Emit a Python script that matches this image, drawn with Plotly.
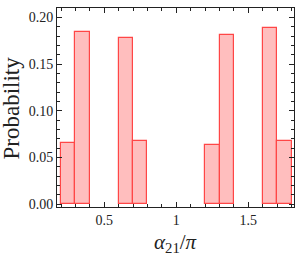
import plotly.graph_objects as go

bin_left = [0.2, 0.3, 0.6, 0.7, 1.2, 1.3, 1.6, 1.7]
bin_width = 0.1
probability = [0.065, 0.184, 0.178, 0.068, 0.063, 0.181, 0.189, 0.068]

x_ticks = [0.5, 1.0, 1.5]
x_tick_labels = ["0.5", "1", "1.5"]
y_ticks = [0.0, 0.05, 0.10, 0.15, 0.20]
y_tick_labels = ["0.00", "0.05", "0.10", "0.15", "0.20"]

centers = [b + bin_width / 2 for b in bin_left]

fig = go.Figure()
fig.add_trace(go.Bar(
    x=centers, y=probability, width=[bin_width] * len(centers),
    marker=dict(color="rgba(255,190,190,1)", line=dict(color="rgb(255,70,70)", width=1.2)),
    showlegend=False, hoverinfo="skip",
))

font = "Liberation Serif"
axis_common = dict(
    showline=True, linecolor="#222", linewidth=1, mirror="ticks",
    ticks="inside", ticklen=5, tickcolor="#222", tickwidth=1,
    showgrid=False, zeroline=False, automargin=False,
    tickfont=dict(family=font, size=14, color="#222"),
)
fig.update_layout(
    width=299, height=257,
    margin=dict(l=57, r=5, t=8, b=50),
    paper_bgcolor="white", plot_bgcolor="white",
    bargap=0,
    font=dict(family=font),
    xaxis=dict(range=[0.172, 1.817], tickvals=x_ticks, ticktext=x_tick_labels,
               minor=dict(dtick=0.1, tick0=0, ticks="inside", ticklen=3, tickcolor="#222"),
               **axis_common),
    yaxis=dict(range=[-0.0032, 0.21], tickvals=y_ticks, ticktext=y_tick_labels,
               minor=dict(dtick=0.01, tick0=0, ticks="inside", ticklen=3, tickcolor="#222"),
               **axis_common),
    annotations=[
        dict(text="<i>α</i><sub>21</sub>/<i>π</i>", xref="paper", yref="paper",
             x=0.50, y=-0.18, xanchor="center", yanchor="middle", showarrow=False,
             font=dict(family=font, size=21, color="#222")),
        dict(text="Probability", xref="paper", yref="paper", textangle=-90,
             x=-0.19, y=0.5, xanchor="center", yanchor="middle", showarrow=False,
             font=dict(family=font, size=23, color="#222")),
    ],
)
fig.write_html("out.html", config={"displayModeBar": False},
               post_script="document.body.style.margin='0';document.body.style.padding='0';")
